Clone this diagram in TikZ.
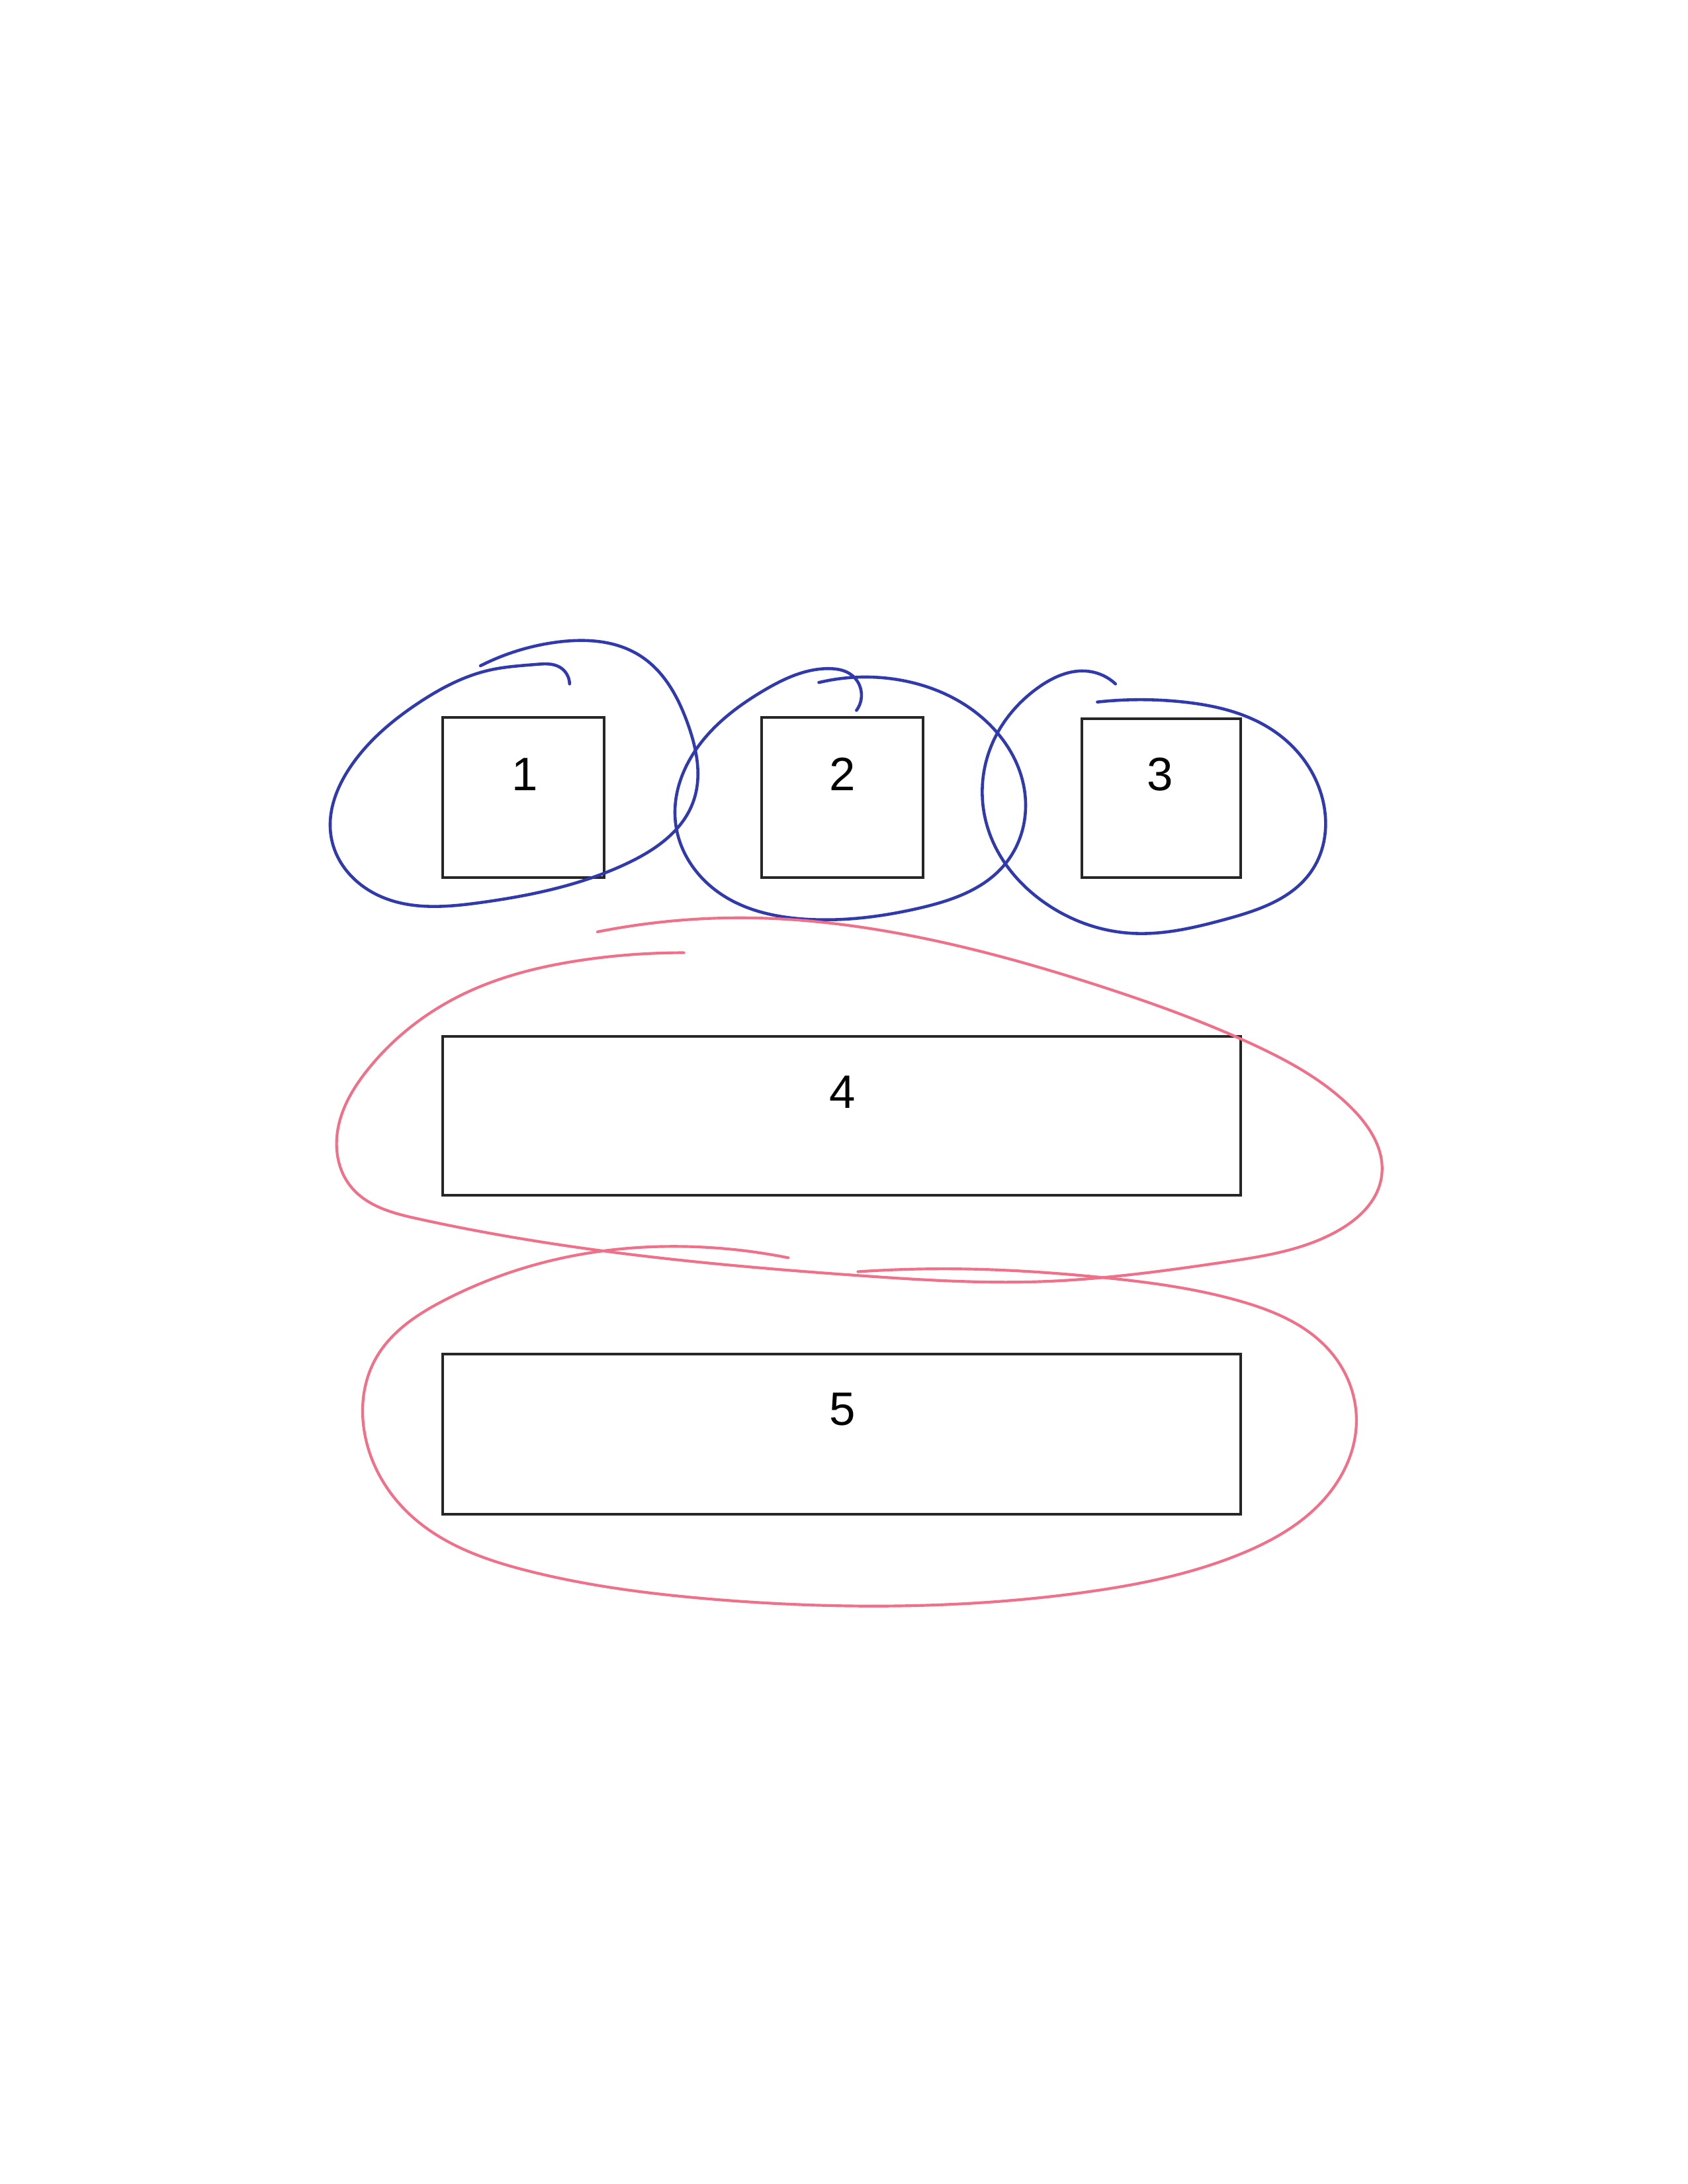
\documentclass[tikz,border=0pt]{standalone}
\usepackage{fontspec}
\setmainfont{Liberation Sans}
\usetikzlibrary{hobby}
\definecolor{inkblue}{RGB}{48,58,172}
\definecolor{inkpink}{RGB}{240,112,138}
\tikzset{
  box/.style={draw=black!85, line width=1pt, inner sep=0pt, outer sep=0pt, fill=none},
  lab/.style={inner sep=0pt, font=\fontsize{17}{20}\selectfont},
  blueloop/.style={draw=inkblue, line width=1.1pt, line cap=round, line join=round, use Hobby shortcut},
  pinkloop/.style={draw=inkpink, line width=1pt, line cap=round, line join=round, use Hobby shortcut},
}
\begin{document}
\begin{tikzpicture}[x=0.505pt, y=-0.505pt]
\useasboundingbox (0,0) rectangle (1212,1568);
\fill[white] (0,0) rectangle (1212,1568);
% boxes
\node[box, minimum width=116*0.505pt, minimum height=115*0.505pt] (b1) at (376,572.5) {};
\node[box, minimum width=116*0.505pt, minimum height=115*0.505pt] (b2) at (605,572.5) {};
\node[box, minimum width=114*0.505pt, minimum height=114*0.505pt] (b3) at (834,573) {};
\node[box, minimum width=573*0.505pt, minimum height=114*0.505pt] (b4) at (604.5,801) {};
\node[box, minimum width=573*0.505pt, minimum height=115*0.505pt] (b5) at (604.5,1029.5) {};
% labels
\node[lab] (l1) at (377,556) {1};
\node[lab] (l2) at (605,556) {2};
\node[lab] (l3) at (833,556) {3};
\node[lab] (l4) at (605,784) {4};
\node[lab] (l5) at (605,1012) {5};
% blue loops
\draw[blueloop] (345,478) .. (400,461) .. (460,471) .. (494,520) .. (498,575) .. (450,620) .. (345,648) .. (272,643) .. (238,602) .. (252,550) .. (300,505) .. (352,481) .. (385,477) .. (402,479) .. (407,484) .. (409,491);
\draw[blueloop] (588,490) .. (645,488) .. (705,515) .. (736,570) .. (722,620) .. (660,652) .. (580,660) .. (515,640) .. (485,590) .. (502,535) .. (548,496) .. (595,480) .. (612,485) .. (615,510);
\draw[blueloop] (788,504) .. (850,504) .. (915,525) .. (950,575) .. (942,625) .. (880,660) .. (812,670) .. (750,648) .. (708,590) .. (712,535) .. (745,494) .. (782,482) .. (801,491);
% pink loops
\draw[pinkloop] (429,669) .. (540,659) .. (650,671) .. (790,708) .. (900,750) .. (970,795) .. (992,845) .. (960,884) .. (880,906) .. (750,920) .. (620,916) .. (440,899) .. (300,875) .. (252,852) .. (242,815) .. (264,768) .. (330,715) .. (420,689) .. (491,684);
\draw[pinkloop] (566,903) .. (495,895) .. (400,904) .. (320,933) .. (270,975) .. (262,1030) .. (295,1088) .. (380,1128) .. (510,1148) .. (640,1153) .. (780,1143) .. (890,1116) .. (952,1075) .. (974,1020) .. (955,970) .. (890,934) .. (790,917) .. (690,911) .. (616,913);
\end{tikzpicture}
\end{document}
